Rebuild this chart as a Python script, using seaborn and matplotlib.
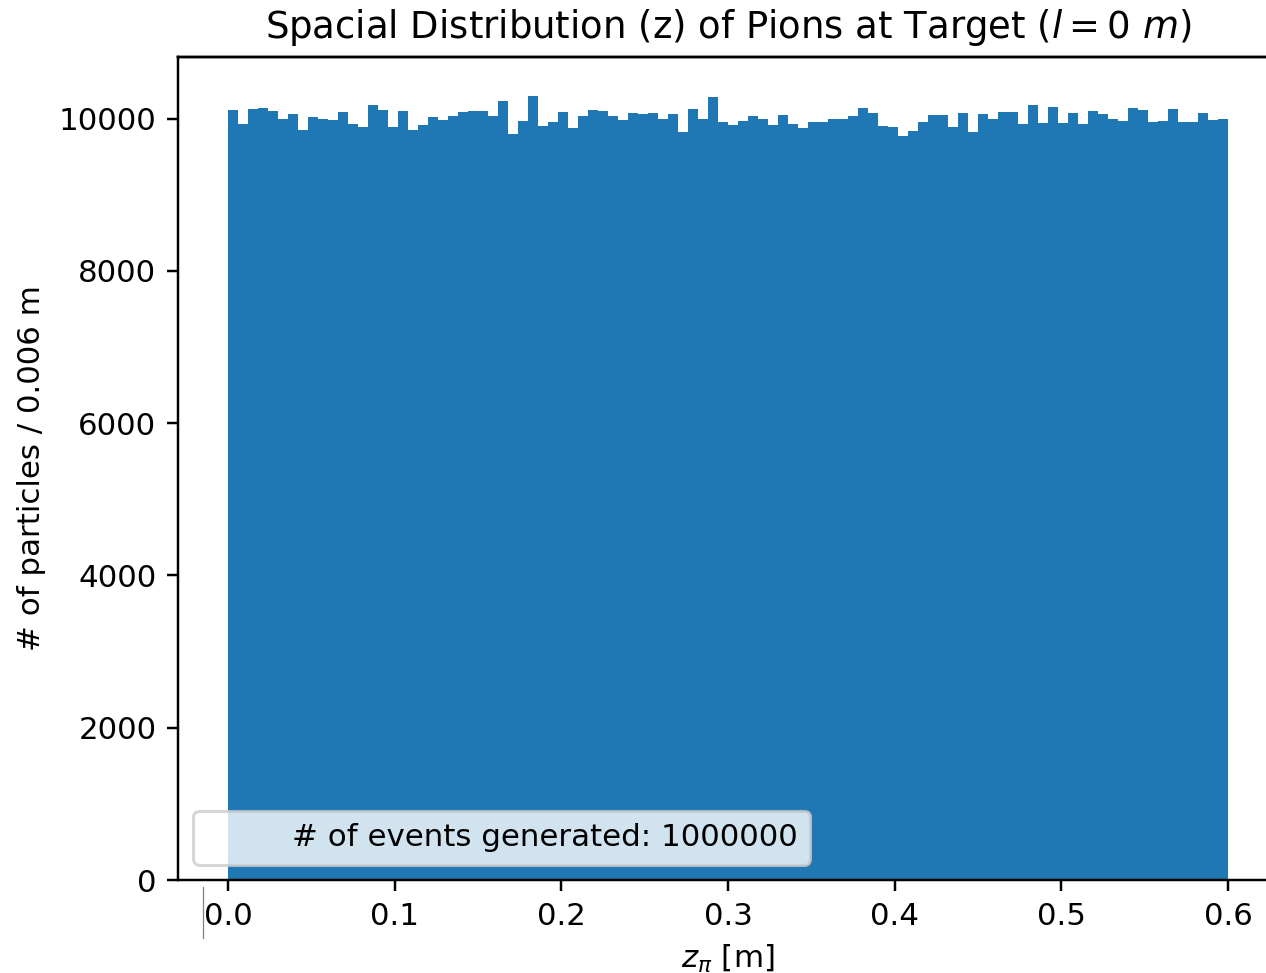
import numpy as np
import pandas as pd
import matplotlib
matplotlib.use("Agg")
import matplotlib.pyplot as plt
from matplotlib.lines import Line2D
import seaborn as sns

# Histogram of pion z positions: 100 bins from 0 to 0.6 m (bin width 0.006 m)
z_min = 0.0
z_max = 0.6
n_bins = 100
counts = [
    10118, 9930, 10131, 10140, 10092, 9991, 10057, 9847, 10026, 9987,
    9978, 10083, 9930, 9891, 10175, 10118, 9882, 10092, 9847, 9921,
    10022, 9974, 10039, 10083, 10092, 10096, 10030, 10227, 9799, 9965,
    10293, 9899, 9956, 10088, 9869, 10030, 10118, 10096, 10030, 9983,
    10066, 10057, 10075, 9987, 10057, 9825, 10127, 10000, 10280, 9956,
    9912, 9965, 10030, 9987, 9921, 10048, 9930, 9878, 9952, 9952,
    9996, 9996, 10039, 10140, 10070, 9899, 9886, 9768, 9838, 9956,
    10044, 10044, 9882, 10066, 9825, 10061, 9991, 10088, 10083, 9930,
    10171, 9947, 10149, 9943, 10070, 9934, 10096, 10061, 9991, 9961,
    10140, 10114, 9956, 9970, 10123, 9952, 9956, 10075, 9978, 9991,
]
n_events = 1000000

title = r"Spacial Distribution (z) of Pions at Target ($l = 0\ m$)"
xlabel = r"$z_{\pi}$ [m]"
ylabel = "# of particles / 0.006 m"
legend_text = f"# of events generated: {n_events}"

edges = np.linspace(z_min, z_max, n_bins + 1)
centers = 0.5 * (edges[:-1] + edges[1:])
df = pd.DataFrame({"z": centers, "count": counts})

DPI = 222
fig = plt.figure(figsize=(1266 / DPI, 973 / DPI), dpi=DPI)
ax = fig.add_axes([178 / 1266, 93 / 973, 1100 / 1266, 823 / 973])

sns.histplot(data=df, x="z", weights="count", bins=n_bins,
             binrange=(z_min, z_max), color="#1f77b4",
             alpha=1.0, edgecolor="none", linewidth=0, ax=ax)

for side in ["left", "right", "top", "bottom"]:
    ax.spines[side].set_visible(True)
    ax.spines[side].set_color("black")
    ax.spines[side].set_linewidth(0.8)
# make sure the top frame line is drawn
ax.plot([0, 1], [1, 1], transform=ax.transAxes, color="black", lw=0.8,
        clip_on=False, zorder=5)

ax.set_title(title, fontsize=12)
ax.set_xlabel(xlabel, fontsize=10)
ax.set_ylabel(ylabel, fontsize=10)
ax.set_xticks([0.0, 0.1, 0.2, 0.3, 0.4, 0.5, 0.6])
ax.set_yticks([0, 2000, 4000, 6000, 8000, 10000])
ax.tick_params(labelsize=10, length=3.5, width=0.8)

ax.plot([], [], " ", label=legend_text)
ax.legend(loc="lower left", fontsize=10, handlelength=2.0)

fig.add_artist(Line2D([203 / 1266, 203 / 1266], [1 - 887 / 973, 1 - 938 / 973],
                      color="gray", lw=0.4))

fig.savefig("out.png", dpi=DPI)
